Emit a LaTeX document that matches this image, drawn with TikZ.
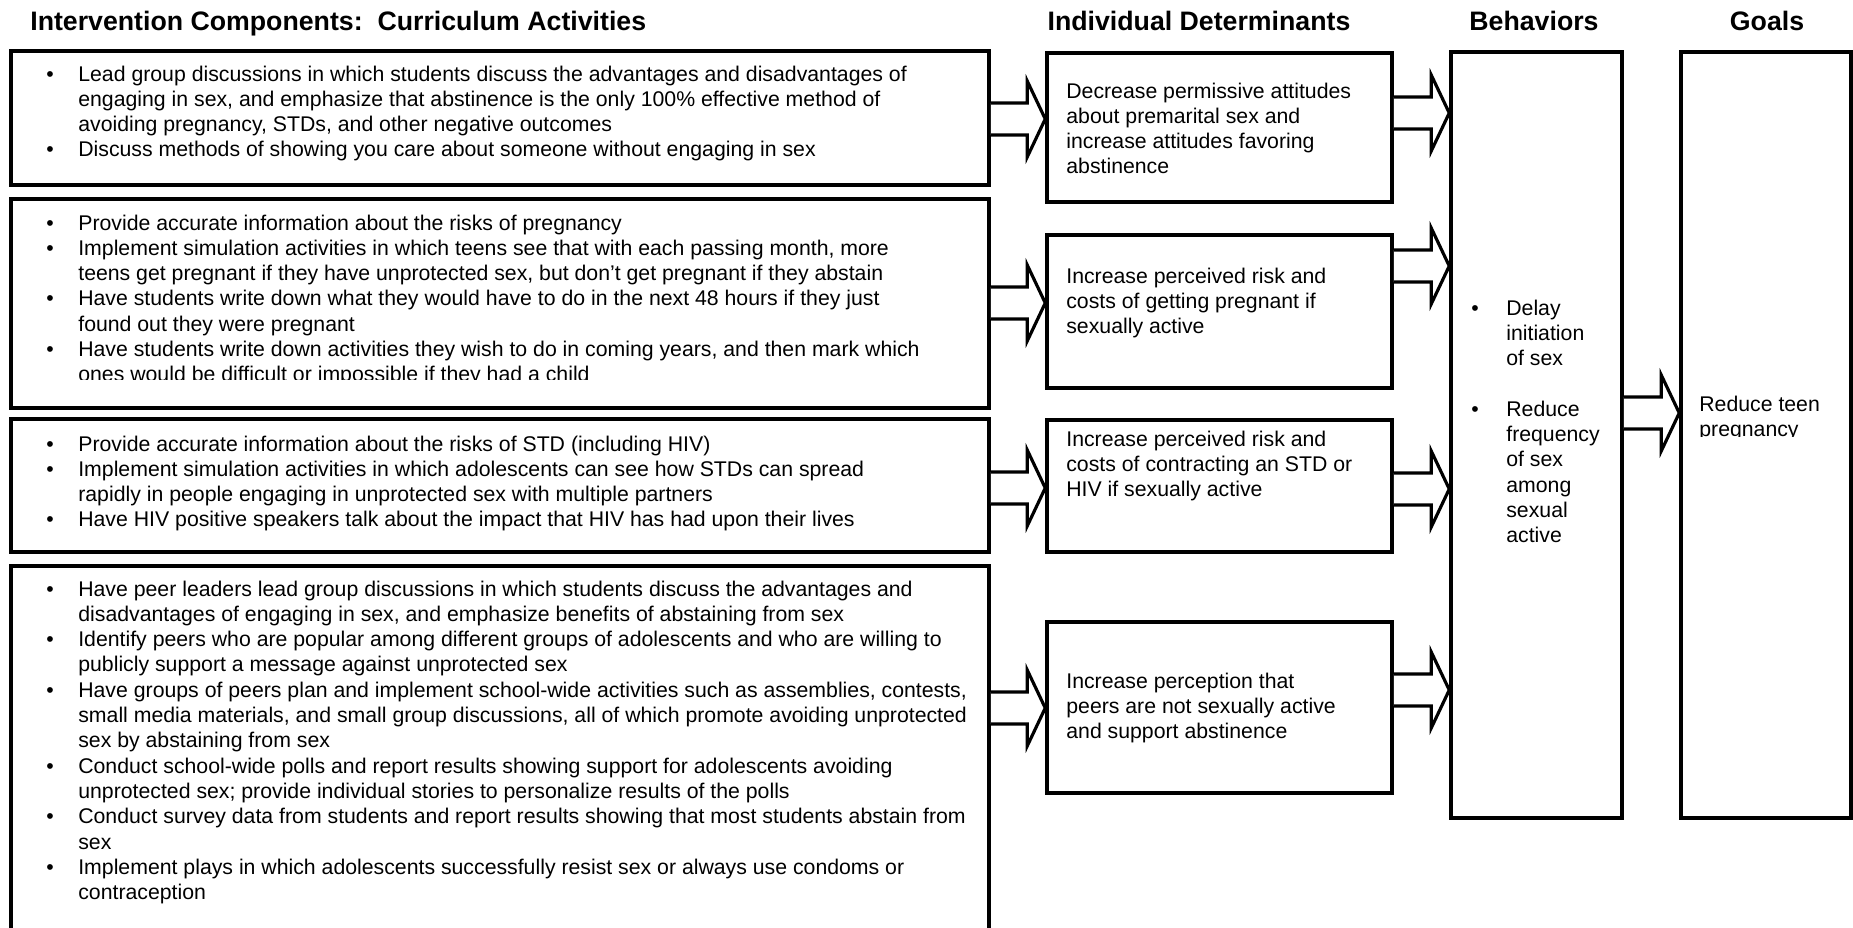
\documentclass[tikz,border=0pt]{standalone}
\usepackage{fontspec}
\setmainfont{Liberation Sans}
\usetikzlibrary{calc,fit}

\tikzset{
  box/.style={draw, line width=2pt, inner sep=0pt},
  head/.style={font=\fontsize{15.2}{18}\selectfont\bfseries, inner sep=0pt, anchor=base},
  txt/.style={font=\fontsize{12.1}{14.4}\selectfont, inner sep=0pt, anchor=base west},
  blockarrow/.style={draw, line width=1.8pt, fill=white, line join=miter}
}

\begin{document}
\begin{tikzpicture}[x=0.02cm, y=-0.02cm]

\useasboundingbox (0,0) rectangle (1853,927);
\clip (0,0) rectangle (1853,927);

% column headings
\node[head, anchor=base west] (hact) at (30,30) {Intervention Components:\ \ Curriculum Activities};
\node[head] (hdet) at (1199,30) {Individual Determinants};
\node[head] (hbeh) at (1534,30) {Behaviors};
\node[head] (hgoal) at (1767,30) {Goals};

% curriculum activities
\node[box, fit={(11,51) (989,185)}] (act1) {};
\node[box, fit={(11,199) (989,408)}] (act2) {};
\node[box, fit={(11,419) (989,552)}] (act3) {};
\node[box, fit={(11,566) (989,960)}] (act4) {};

\node[txt] (act1txt) at (46,81) {\begin{tabular}[t]{@{}p{0.64cm}@{}l@{}}
\textbullet & Lead group discussions in which students discuss the advantages and disadvantages of\\
 & engaging in sex, and emphasize that abstinence is the only 100\% effective method of\\
 & avoiding pregnancy, STDs, and other negative outcomes\\
\textbullet & Discuss methods of showing you care about someone without engaging in sex
\end{tabular}};

\begin{scope}
\clip (11,199) rectangle (989,379);
\node[txt] (act2txt) at (46,230) {\begin{tabular}[t]{@{}p{0.64cm}@{}l@{}}
\textbullet & Provide accurate information about the risks of pregnancy\\
\textbullet & Implement simulation activities in which teens see that with each passing month, more\\
 & teens get pregnant if they have unprotected sex, but don't get pregnant if they abstain\\
\textbullet & Have students write down what they would have to do in the next 48 hours if they just\\
 & found out they were pregnant\\
\textbullet & Have students write down activities they wish to do in coming years, and then mark which\\
 & ones would be difficult or impossible if they had a child
\end{tabular}};
\end{scope}

\node[txt] (act3txt) at (46,451) {\begin{tabular}[t]{@{}p{0.64cm}@{}l@{}}
\textbullet & Provide accurate information about the risks of STD (including HIV)\\
\textbullet & Implement simulation activities in which adolescents can see how STDs can spread\\
 & rapidly in people engaging in unprotected sex with multiple partners\\
\textbullet & Have HIV positive speakers talk about the impact that HIV has had upon their lives
\end{tabular}};

\node[txt] (act4txt) at (46,596) {\begin{tabular}[t]{@{}p{0.64cm}@{}l@{}}
\textbullet & Have peer leaders lead group discussions in which students discuss the advantages and\\
 & disadvantages of engaging in sex, and emphasize benefits of abstaining from sex\\
\textbullet & Identify peers who are popular among different groups of adolescents and who are willing to\\
 & publicly support a message against unprotected sex\\
\textbullet & Have groups of peers plan and implement school-wide activities such as assemblies, contests,\\
 & small media materials, and small group discussions, all of which promote avoiding unprotected\\
 & sex by abstaining from sex\\
\textbullet & Conduct school-wide polls and report results showing support for adolescents avoiding\\
 & unprotected sex; provide individual stories to personalize results of the polls\\
\textbullet & Conduct survey data from students and report results showing that most students abstain from\\
 & sex\\
\textbullet & Implement plays in which adolescents successfully resist sex or always use condoms or\\
 & contraception
\end{tabular}};

% individual determinants
\node[box, fit={(1047,53) (1392,202)}] (det1) {};
\node[box, fit={(1047,235) (1392,388)}] (det2) {};
\node[box, fit={(1047,420) (1392,552)}] (det3) {};
\node[box, fit={(1047,622) (1392,793)}] (det4) {};

\node[txt] (det1txt) at (1066,98) {\begin{tabular}[t]{@{}l@{}}
Decrease permissive attitudes\\about premarital sex and\\increase attitudes favoring\\abstinence
\end{tabular}};
\node[txt] (det2txt) at (1066,283) {\begin{tabular}[t]{@{}l@{}}
Increase perceived risk and\\costs of getting pregnant if\\sexually active
\end{tabular}};
\node[txt] (det3txt) at (1066,446) {\begin{tabular}[t]{@{}l@{}}
Increase perceived risk and\\costs of contracting an STD or\\HIV if sexually active
\end{tabular}};
\node[txt] (det4txt) at (1066,688) {\begin{tabular}[t]{@{}l@{}}
Increase perception that\\peers are not sexually active\\and support abstinence
\end{tabular}};

% behaviors and goals
\node[box, fit={(1451,52) (1622,818)}] (beh) {};
\node[box, fit={(1681,52) (1851,818)}] (goal) {};

\node[txt] (behtxt) at (1471,315) {\begin{tabular}[t]{@{}p{0.7cm}@{}l@{}}
\textbullet & Delay\\
 & initiation\\
 & of sex\\
 & \\
\textbullet & Reduce\\
 & frequency\\
 & of sex\\
 & among\\
 & sexual\\
 & active
\end{tabular}};

\begin{scope}
\clip (1681,52) rectangle (1851,436);
\node[txt] (goaltxt) at (1699,411) {\begin{tabular}[t]{@{}l@{}}
Reduce teen\\pregnancy
\end{tabular}};
\end{scope}

% block arrows
\foreach \src/\dst/\yy in {act1/det1/119, act2/det2/303, act3/det3/488, act4/det4/708,
    det1/beh/113, det2/beh/266, det3/beh/489, det4/beh/690, beh/goal/413}{
  \coordinate (s) at (\src.east |- 0,\yy);
  \coordinate (t) at (\dst.west |- 0,\yy);
  \draw[blockarrow] ($(s)+(0,-16)$) -- ($(t)+(-18,-16)$) -- ($(t)+(-18,-38)$) -- (t)
    -- ($(t)+(-18,38)$) -- ($(t)+(-18,16)$) -- ($(s)+(0,16)$);
}

\end{tikzpicture}
\end{document}
